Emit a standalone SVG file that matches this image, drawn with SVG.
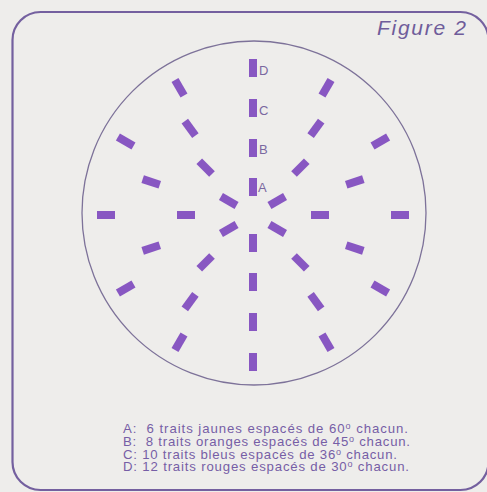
<svg xmlns="http://www.w3.org/2000/svg" width="487" height="492" viewBox="0 0 487 492">
<style>
.d{fill:#8857c2}
.lbl{font-family:"Liberation Sans",Arial,sans-serif;font-size:13px;fill:#7a68a0}
.leg{font-family:"Liberation Sans",Arial,sans-serif;font-size:13.2px;fill:#765ea6;white-space:pre}
.sup{font-size:9px}
</style>
<defs>
<rect id="dash" x="-4" y="-9" width="8" height="18" class="d"/>
</defs>
<rect width="487" height="492" fill="#eeedeb"/>
<rect id="frame" x="12.5" y="12" width="476" height="478" rx="28" ry="28" fill="none" stroke="#74609f" stroke-width="2.2"/>
<text id="title" x="377" y="35" font-family="'Liberation Sans',Arial,sans-serif" font-style="italic" font-size="21" fill="#6f5c9a" textLength="89" lengthAdjust="spacing">Figure 2</text>
<circle id="disc" cx="254" cy="213" r="172" fill="none" stroke="#7d7299" stroke-width="1.3"/>
<g id="ringA" transform="translate(253,215)">
<use href="#dash" transform="rotate(0) translate(0,-28)"/>
<use href="#dash" transform="rotate(60) translate(0,-28)"/>
<use href="#dash" transform="rotate(120) translate(0,-28)"/>
<use href="#dash" transform="rotate(180) translate(0,-28)"/>
<use href="#dash" transform="rotate(240) translate(0,-28)"/>
<use href="#dash" transform="rotate(300) translate(0,-28)"/>
</g>
<g id="ringB" transform="translate(253,215)">
<use href="#dash" transform="rotate(0) translate(0,-67)"/>
<use href="#dash" transform="rotate(45) translate(0,-67)"/>
<use href="#dash" transform="rotate(90) translate(0,-67)"/>
<use href="#dash" transform="rotate(135) translate(0,-67)"/>
<use href="#dash" transform="rotate(180) translate(0,-67)"/>
<use href="#dash" transform="rotate(225) translate(0,-67)"/>
<use href="#dash" transform="rotate(270) translate(0,-67)"/>
<use href="#dash" transform="rotate(315) translate(0,-67)"/>
</g>
<g id="ringC" transform="translate(253,215)">
<use href="#dash" transform="rotate(0) translate(0,-107)"/>
<use href="#dash" transform="rotate(36) translate(0,-107)"/>
<use href="#dash" transform="rotate(72) translate(0,-107)"/>
<use href="#dash" transform="rotate(108) translate(0,-107)"/>
<use href="#dash" transform="rotate(144) translate(0,-107)"/>
<use href="#dash" transform="rotate(180) translate(0,-107)"/>
<use href="#dash" transform="rotate(216) translate(0,-107)"/>
<use href="#dash" transform="rotate(252) translate(0,-107)"/>
<use href="#dash" transform="rotate(288) translate(0,-107)"/>
<use href="#dash" transform="rotate(324) translate(0,-107)"/>
</g>
<g id="ringD" transform="translate(253,215)">
<use href="#dash" transform="rotate(0) translate(0,-147)"/>
<use href="#dash" transform="rotate(30) translate(0,-147)"/>
<use href="#dash" transform="rotate(60) translate(0,-147)"/>
<use href="#dash" transform="rotate(90) translate(0,-147)"/>
<use href="#dash" transform="rotate(120) translate(0,-147)"/>
<use href="#dash" transform="rotate(150) translate(0,-147)"/>
<use href="#dash" transform="rotate(180) translate(0,-147)"/>
<use href="#dash" transform="rotate(210) translate(0,-147)"/>
<use href="#dash" transform="rotate(240) translate(0,-147)"/>
<use href="#dash" transform="rotate(270) translate(0,-147)"/>
<use href="#dash" transform="rotate(300) translate(0,-147)"/>
<use href="#dash" transform="rotate(330) translate(0,-147)"/>
</g>
<g id="labels">
<text class="lbl" x="259" y="75">D</text>
<text class="lbl" x="259" y="115">C</text>
<text class="lbl" x="259" y="154">B</text>
<text class="lbl" x="258" y="192">A</text>
</g>
<g id="legend">
<text class="leg" x="123" y="433" textLength="285" lengthAdjust="spacing">A:  6 traits jaunes espacés de 60<tspan class="sup" dy="-4">o</tspan><tspan dy="4"> chacun.</tspan></text>
<text class="leg" x="123" y="446" textLength="287" lengthAdjust="spacing">B:  8 traits oranges espacés de 45<tspan class="sup" dy="-4">o</tspan><tspan dy="4"> chacun.</tspan></text>
<text class="leg" x="123" y="458.5" textLength="274" lengthAdjust="spacing">C: 10 traits bleus espacés de 36<tspan class="sup" dy="-4">o</tspan><tspan dy="4"> chacun.</tspan></text>
<text class="leg" x="123" y="471" textLength="286" lengthAdjust="spacing">D: 12 traits rouges espacés de 30<tspan class="sup" dy="-4">o</tspan><tspan dy="4"> chacun.</tspan></text>
</g>
</svg>
